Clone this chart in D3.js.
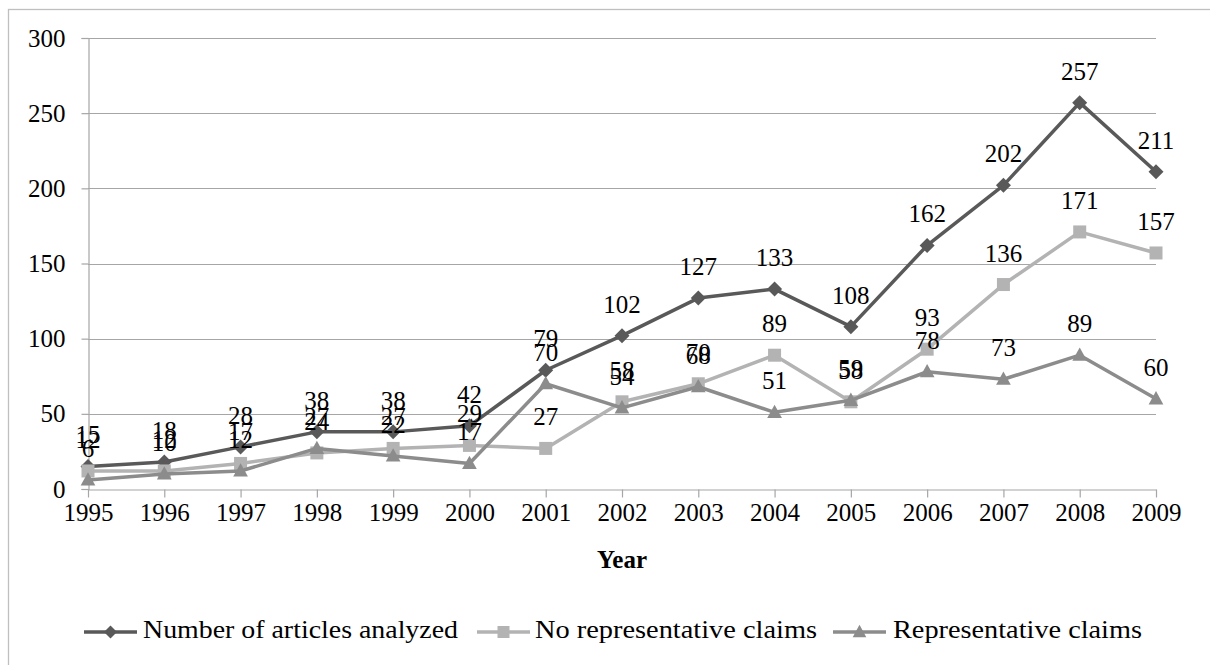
<!DOCTYPE html>
<html>
<head>
<meta charset="utf-8">
<script src="https://cdn.jsdelivr.net/npm/d3@7"></script>
<style>
  html, body { margin: 0; padding: 0; background: #fff; }
  svg { display: block; }
  text { font-family: "Liberation Serif", "Times New Roman", serif; fill: #000; }
</style>
</head>
<body>
<svg id="chart" width="1210" height="665"></svg>
<script>
// Yearly counts of analyzed articles and how many carry representative claims
const years = [1995, 1996, 1997, 1998, 1999, 2000, 2001, 2002, 2003, 2004, 2005, 2006, 2007, 2008, 2009];
const articlesAnalyzed = [15, 18, 28, 38, 38, 42, 79, 102, 127, 133, 108, 162, 202, 257, 211];
const noRepresentativeClaims = [12, 12, 17, 24, 27, 29, 27, 58, 70, 89, 58, 93, 136, 171, 157];
const representativeClaims = [6, 10, 12, 27, 22, 17, 70, 54, 68, 51, 59, 78, 73, 89, 60];
const yTicks = [0, 50, 100, 150, 200, 250, 300];
const seriesNames = ["Number of articles analyzed", "No representative claims", "Representative claims"];

const series = [
  { name: seriesNames[0], values: articlesAnalyzed, color: "#595959", marker: "diamond" },
  { name: seriesNames[1], values: noRepresentativeClaims, color: "#b3b3b3", marker: "square" },
  { name: seriesNames[2], values: representativeClaims, color: "#8c8c8c", marker: "triangle" }
];

const svg = d3.select("#chart");

// outer chart frame (extends past the right/bottom edge of the page)
svg.append("rect")
  .attr("x", 8.5).attr("y", 9.5)
  .attr("width", 1300).attr("height", 700)
  .attr("fill", "none").attr("stroke", "#bfbfbf").attr("stroke-width", 1.3);

const x = d3.scalePoint().domain(years).range([88, 1156]);
const y = d3.scaleLinear().domain([0, 300]).range([489, 38]);

// horizontal gridlines
svg.append("g").selectAll("line")
  .data(yTicks.filter(t => t > 0))
  .join("line")
  .attr("x1", 88).attr("x2", 1156)
  .attr("y1", d => Math.round(y(d)) + 0.5).attr("y2", d => Math.round(y(d)) + 0.5)
  .attr("stroke", "#a6a6a6").attr("stroke-width", 1.2);

// y axis
const yAxis = svg.append("g")
  .attr("transform", "translate(88.5,0)")
  .call(d3.axisLeft(y).tickValues(yTicks).tickSize(7).tickPadding(16));
yAxis.select(".domain").attr("stroke", "#a6a6a6").attr("stroke-width", 1.2);
yAxis.selectAll(".tick line").attr("stroke", "#a6a6a6").attr("stroke-width", 1.2);
yAxis.selectAll(".tick text")
  .attr("font-family", "'Liberation Serif', serif").attr("font-size", 25).attr("fill", "#000");

// x axis
const xAxis = svg.append("g")
  .attr("transform", "translate(0,489.5)")
  .call(d3.axisBottom(x).tickSize(8).tickPadding(6).tickSizeOuter(0));
xAxis.select(".domain").attr("stroke", "#a6a6a6").attr("stroke-width", 1.2);
xAxis.selectAll(".tick line").attr("stroke", "#a6a6a6").attr("stroke-width", 1.2);
xAxis.selectAll(".tick text")
  .attr("font-family", "'Liberation Serif', serif").attr("font-size", 25).attr("fill", "#000");

// axis title
svg.append("text")
  .attr("x", 622).attr("y", 568)
  .attr("text-anchor", "middle")
  .attr("font-size", 25).attr("font-weight", "bold")
  .text("Year");

// marker shapes
function markerPath(kind, s) {
  if (kind === "diamond") return `M0,${-s}L${s},0L0,${s}L${-s},0Z`;
  if (kind === "square") return `M${-s},${-s}H${s}V${s}H${-s}Z`;
  return `M0,${-s * 1.1}L${s * 1.05},${s * 0.8}L${-s * 1.05},${s * 0.8}Z`;
}

const line = d3.line().x((d, i) => x(years[i])).y(d => y(d));

// lines and markers
series.forEach(s => {
  const g = svg.append("g");
  g.append("path")
    .attr("d", line(s.values))
    .attr("fill", "none").attr("stroke", s.color)
    .attr("stroke-width", 3.5).attr("stroke-linejoin", "round");
  g.selectAll("path.mk")
    .data(s.values)
    .join("path")
    .attr("class", "mk")
    .attr("transform", (d, i) => `translate(${x(years[i])},${y(d)})`)
    .attr("d", s.marker === "diamond" ? markerPath("diamond", 7.5)
            : s.marker === "square" ? markerPath("square", 6.5) : markerPath("triangle", 7))
    .attr("fill", s.color);
});

// data labels above each point
series.forEach(s => {
  svg.append("g").selectAll("text")
    .data(s.values)
    .join("text")
    .attr("x", (d, i) => x(years[i]))
    .attr("y", d => y(d) - 23)
    .attr("text-anchor", "middle")
    .attr("font-size", 25)
    .text(d => d);
});

// legend
const legendItems = [
  { lx: 84, tx: 143, tw: 315 },
  { lx: 477, tx: 535, tw: 282 },
  { lx: 833, tx: 893, tw: 249 }
];
series.forEach((s, i) => {
  const li = legendItems[i];
  const g = svg.append("g");
  g.append("line")
    .attr("x1", li.lx).attr("x2", li.lx + 53)
    .attr("y1", 632).attr("y2", 632)
    .attr("stroke", s.color).attr("stroke-width", 3.5);
  g.append("path")
    .attr("transform", `translate(${li.lx + 26.5},632)`)
    .attr("d", s.marker === "diamond" ? markerPath("diamond", 6.5)
            : s.marker === "square" ? markerPath("square", 6) : markerPath("triangle", 6.5))
    .attr("fill", s.color);
  g.append("text")
    .attr("x", li.tx).attr("y", 638)
    .attr("font-size", 25)
    .attr("textLength", li.tw).attr("lengthAdjust", "spacingAndGlyphs")
    .text(s.name);
});
</script>
</body>
</html>
